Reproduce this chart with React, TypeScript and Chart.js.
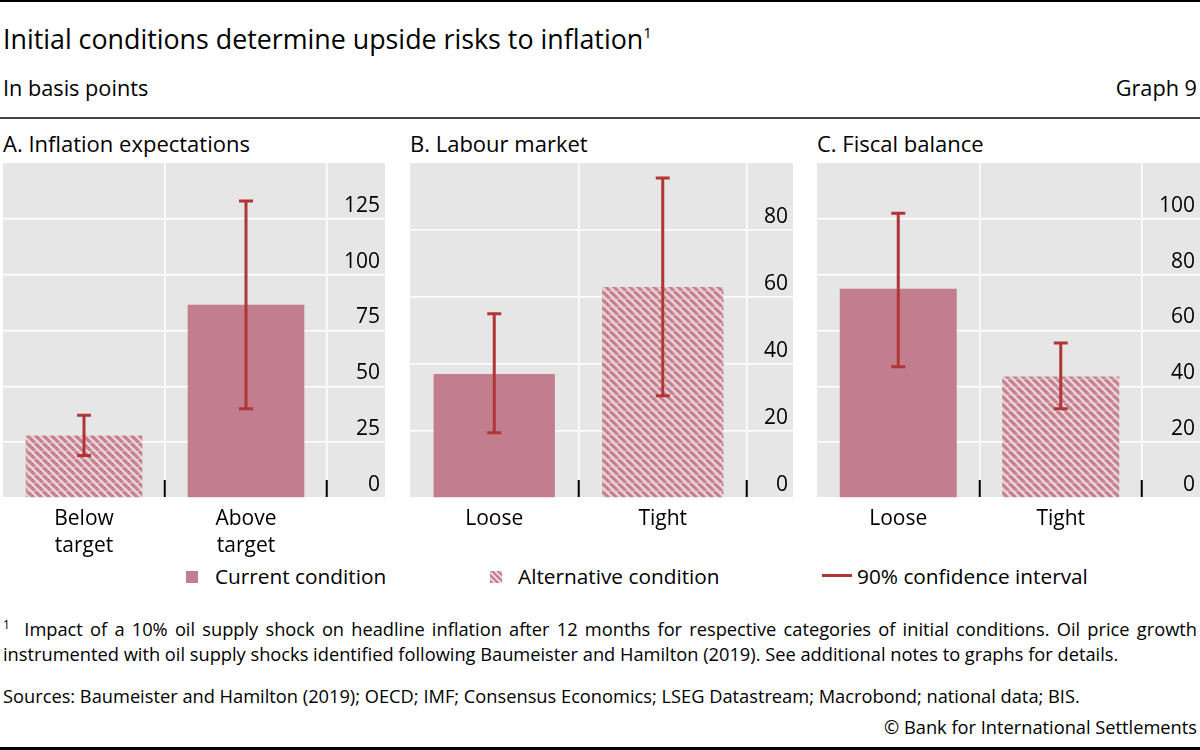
import { useEffect, useRef } from 'react';
import { Chart, registerables } from 'chart.js';

Chart.register(...registerables);

const FONT = '"Open Sans", "Noto Sans", sans-serif';
const PINK = '#c27e8f';
const HATCH_PINK = '#c7808f';
const HATCH_LIGHT = '#e8d4d8';
const RED = '#b03636';
const PANEL_BG = '#e6e6e6';
const CLEAR = 'rgba(0,0,0,0)';

// A. Inflation expectations
const inflationLabels = [['Below', 'target'], ['Above', 'target']];
const inflationImpact = [28, 86.5];
const inflationLow = [19, 40];
const inflationHigh = [37, 133];
const inflationAlternative = [true, false];
const inflationTicks = [0, 25, 50, 75, 100, 125, 150];

// B. Labour market
const labourLabels = ['Loose', 'Tight'];
const labourImpact = [37, 63];
const labourLow = [19.5, 30.5];
const labourHigh = [55, 95.5];
const labourAlternative = [false, true];
const labourTicks = [0, 20, 40, 60, 80, 100];

// C. Fiscal balance
const fiscalLabels = ['Loose', 'Tight'];
const fiscalImpact = [75, 43.5];
const fiscalLow = [47, 32];
const fiscalHigh = [102, 55.5];
const fiscalAlternative = [false, true];
const fiscalTicks = [0, 20, 40, 60, 80, 100, 120];

function makeHatch(ctx: CanvasRenderingContext2D) {
  const c = document.createElement('canvas');
  c.width = 8;
  c.height = 8;
  const g = c.getContext('2d')!;
  g.fillStyle = HATCH_LIGHT;
  g.fillRect(0, 0, 8, 8);
  g.strokeStyle = HATCH_PINK;
  g.lineWidth = 3.2;
  for (const k of [-8, 0, 8]) {
    g.beginPath();
    g.moveTo(k, 0);
    g.lineTo(k + 8, 8);
    g.stroke();
  }
  return ctx.createPattern(c, 'repeat')!;
}

// grey panel behind plot and the tick label column
const backdrop = {
  id: 'backdrop',
  beforeDraw(chart: any) {
    const { ctx, chartArea } = chart;
    const y = chart.scales.y;
    ctx.save();
    ctx.fillStyle = PANEL_BG;
    ctx.fillRect(chartArea.left, chartArea.top, y.right - chartArea.left, chartArea.bottom - chartArea.top);
    ctx.restore();
  },
};

function errorBars(low: number[], high: number[]) {
  return {
    id: 'errorBars',
    afterDatasetsDraw(chart: any) {
      const { ctx } = chart;
      const { x, y } = chart.scales;
      ctx.save();
      ctx.strokeStyle = RED;
      ctx.lineWidth = 3;
      low.forEach((lo, i) => {
        const px = x.getPixelForValue(i);
        const top = y.getPixelForValue(high[i]);
        const bot = y.getPixelForValue(lo);
        ctx.beginPath();
        ctx.moveTo(px, top);
        ctx.lineTo(px, bot);
        ctx.moveTo(px - 7, top);
        ctx.lineTo(px + 7, top);
        ctx.moveTo(px - 7, bot);
        ctx.lineTo(px + 7, bot);
        ctx.stroke();
      });
      ctx.restore();
    },
  };
}

type PanelProps = {
  title: string;
  labels: (string | string[])[];
  values: number[];
  low: number[];
  high: number[];
  alternative: boolean[];
  ticks: number[];
  left: number;
  width: number;
  axisWidth: number;
};

function Panel({ title, labels, values, low, high, alternative, ticks, left, width, axisWidth }: PanelProps) {
  const canvasRef = useRef<HTMLCanvasElement | null>(null);
  const chartRef = useRef<Chart | null>(null);

  useEffect(() => {
    if (!canvasRef.current) return;
    if (chartRef.current) chartRef.current.destroy();
    const ctx = canvasRef.current.getContext('2d')!;
    const hatch = makeHatch(ctx);
    const yMax = ticks[ticks.length - 1];

    chartRef.current = new Chart(canvasRef.current, {
      type: 'bar',
      data: {
        labels,
        datasets: [
          {
            data: values,
            backgroundColor: alternative.map((a) => (a ? hatch : PINK)),
            borderWidth: 0,
            barPercentage: 0.72,
            categoryPercentage: 1,
          },
        ],
      },
      options: {
        animation: false,
        responsive: true,
        maintainAspectRatio: false,
        layout: { padding: 0 },
        plugins: {
          legend: { display: false },
          tooltip: { enabled: false },
        },
        scales: {
          x: {
            afterFit: (s: any) => {
              s.height = 62;
              s.paddingLeft = 0;
              s.paddingRight = 0;
            },
            border: { display: false },
            grid: {
              offset: true,
              color: (c: any) => (c.index === 0 ? CLEAR : '#ffffff'),
              lineWidth: 1.5,
              drawTicks: true,
              tickLength: -18,
              tickWidth: 2,
              tickColor: (c: any) => (c.index === 0 ? CLEAR : '#000000'),
            },
            ticks: {
              color: '#000',
              font: { family: FONT, size: 21, lineHeight: 1.29 },
              padding: 25,
              autoSkip: false,
              maxRotation: 0,
            },
          },
          y: {
            position: 'right',
            min: 0,
            max: yMax,
            afterBuildTicks: (s: any) => {
              s.ticks = ticks.map((v) => ({ value: v }));
            },
            afterFit: (s: any) => {
              s.width = axisWidth;
              s.paddingTop = 0;
              s.paddingBottom = 0;
            },
            border: { display: false },
            grid: {
              color: (c: any) => (c.tick && c.tick.value === yMax ? CLEAR : '#ffffff'),
              lineWidth: 1.5,
              drawTicks: true,
              tickLength: axisWidth,
              tickColor: (c: any) => (c.tick && c.tick.value === yMax ? CLEAR : '#ffffff'),
            },
            ticks: {
              mirror: true,
              padding: axisWidth - 5,
              labelOffset: -13,
              color: '#000',
              font: { family: FONT, size: 21 },
              callback: (v: any) => (v === yMax ? '' : String(v)),
            },
          },
        },
      },
      plugins: [backdrop, errorBars(low, high)],
    });

    return () => {
      chartRef.current?.destroy();
      chartRef.current = null;
    };
  }, []);

  return (
    <>
      <div style={{ position: 'absolute', left, top: 129, fontSize: 22, lineHeight: 1.362, whiteSpace: 'nowrap' }}>{title}</div>
      <div style={{ position: 'absolute', left, top: 163, width, height: 397 }}>
        <canvas ref={canvasRef} />
      </div>
    </>
  );
}

function Text({ left, top, size, right, children }: any) {
  return (
    <div
      style={{
        position: 'absolute',
        left,
        right,
        top,
        fontSize: size,
        lineHeight: 1.362,
        whiteSpace: 'nowrap',
      }}
    >
      {children}
    </div>
  );
}

const NOTE = 18.25;

export default function App() {
  return (
    <div
      style={{
        position: 'absolute',
        left: 0,
        top: 0,
        width: 1200,
        height: 750,
        background: '#fff',
        color: '#000',
        fontFamily: FONT,
        overflow: 'hidden',
      }}
    >
      <div style={{ position: 'absolute', left: 0, top: 0, width: 1200, height: 2, background: '#000' }} />
      <Text left={3} top={21} size={26.8}>
        Initial conditions determine upside risks to inflation
        <span style={{ fontSize: 15, position: 'relative', top: -11 }}>1</span>
      </Text>
      <Text left={3} top={73} size={21.7}>In basis points</Text>
      <Text right={3} top={73} size={21.7}>Graph 9</Text>
      <div style={{ position: 'absolute', left: 0, top: 117, width: 1200, height: 1.5, background: '#444' }} />

      <Panel
        title="A. Inflation expectations"
        labels={inflationLabels}
        values={inflationImpact}
        low={inflationLow}
        high={inflationHigh}
        alternative={inflationAlternative}
        ticks={inflationTicks}
        left={3}
        width={382}
        axisWidth={58}
      />
      <Panel
        title="B. Labour market"
        labels={labourLabels}
        values={labourImpact}
        low={labourLow}
        high={labourHigh}
        alternative={labourAlternative}
        ticks={labourTicks}
        left={410}
        width={383}
        axisWidth={46}
      />
      <Panel
        title="C. Fiscal balance"
        labels={fiscalLabels}
        values={fiscalImpact}
        low={fiscalLow}
        high={fiscalHigh}
        alternative={fiscalAlternative}
        ticks={fiscalTicks}
        left={817}
        width={383}
        axisWidth={58}
      />

      {/* legend */}
      <div style={{ position: 'absolute', left: 186, top: 571, width: 12, height: 12, background: PINK }} />
      <Text left={215} top={562} size={20.8}>Current condition</Text>
      <div
        style={{
          position: 'absolute',
          left: 490,
          top: 571,
          width: 12,
          height: 12,
          background: `repeating-linear-gradient(45deg, ${HATCH_PINK} 0 2.2px, ${HATCH_LIGHT} 2.2px 4.4px)`,
        }}
      />
      <Text left={518} top={562} size={20.8}>Alternative condition</Text>
      <div style={{ position: 'absolute', left: 822, top: 574, width: 30, height: 3, background: RED }} />
      <Text left={857} top={562} size={20.8}>90% confidence interval</Text>

      {/* notes */}
      <div
        style={{
          position: 'absolute',
          left: 3,
          top: 616,
          width: 1194,
          fontSize: NOTE,
          lineHeight: '25px',
          textAlign: 'justify',
          textAlignLast: 'justify',
        }}
      >
        <span style={{ fontSize: 12, position: 'relative', top: -7 }}>1</span>&nbsp; Impact of a 10% oil supply shock on
        headline inflation after 12 months for respective categories of initial conditions. Oil price growth
      </div>
      <div style={{ position: 'absolute', left: 3, top: 641, fontSize: NOTE, lineHeight: '25px', whiteSpace: 'nowrap' }}>
        instrumented with oil supply shocks identified following Baumeister and Hamilton (2019). See additional notes to
        graphs for details.
      </div>
      <div style={{ position: 'absolute', left: 3, top: 683, fontSize: NOTE, lineHeight: '25px', whiteSpace: 'nowrap' }}>
        Sources: Baumeister and Hamilton (2019); OECD; IMF; Consensus Economics; LSEG Datastream; Macrobond; national
        data; BIS.
      </div>
      <div style={{ position: 'absolute', right: 3, top: 714, fontSize: NOTE, lineHeight: '25px', whiteSpace: 'nowrap' }}>
        © Bank for International Settlements
      </div>
      <div style={{ position: 'absolute', left: 0, top: 747, width: 1200, height: 3, background: '#000' }} />
    </div>
  );
}
